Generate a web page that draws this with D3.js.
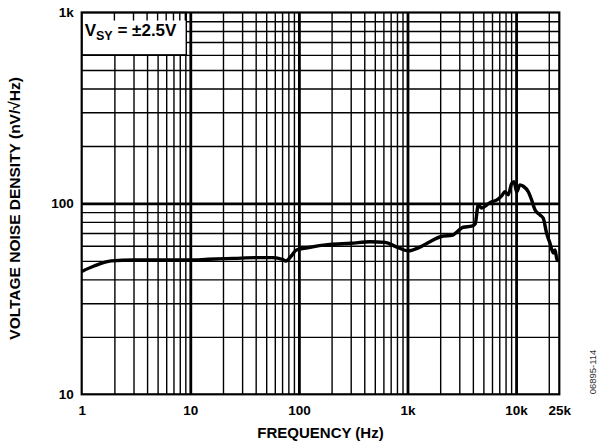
<!DOCTYPE html>
<html><head><meta charset="utf-8">
<script src="https://cdn.jsdelivr.net/npm/d3@7"></script>
<style>body{margin:0;background:#fff}svg{display:block}text{font-family:Arial,"Liberation Sans",sans-serif}</style>
</head><body><svg width="600" height="444"></svg>
<script>
const freq  = [1, 1.3, 1.87, 3, 5, 10, 14.6, 25, 40, 58, 70, 76, 85, 95, 120, 193, 300, 452, 621, 800, 1016, 1300, 1610, 2138, 2553, 3266, 3900, 4200, 4485, 4820, 5360, 5960, 6620, 7360, 7900, 8470, 9100, 9570, 10120, 10860, 11650, 12950, 13920, 14930, 16600, 17800, 19100, 20500, 22000, 22800, 23650, 24470];
const noise = [44, 47, 50, 50.5, 50.5, 50.5, 51, 51.5, 52, 52, 51, 49.9, 53, 57, 58.6, 61, 61.8, 63, 62.5, 59, 56.4, 59, 63, 67.5, 68, 75, 76, 78, 98, 94.5, 98, 102, 104, 109.5, 115, 111, 127, 130, 115, 125, 123, 115, 104, 92.5, 87, 83.5, 69.7, 62, 55, 57, 51.5, 49.6];
const xTickValues = [1, 10, 100, 1000, 10000, 25000];
const xTickLabels = ["1", "10", "100", "1k", "10k", "25k"];
const yTickValues = [10, 100, 1000];
const yTickLabels = ["10", "100", "1k"];
const xGridValues = [2,3,4,5,6,7,8,9,10,20,30,40,50,60,70,80,90,100,200,300,400,500,600,700,800,900,1000,2000,3000,4000,5000,6000,7000,8000,9000,10000,20000];
const yGridValues = [20,30,40,50,60,70,80,90,100,200,300,400,500,600,700,800,900];
const decades = [10, 100, 1000, 10000];

const svg = d3.select("svg");
const x = d3.scaleLog().domain([1, 25000]).range([81.7, 559.3]);
const y = d3.scaleLog().domain([10, 1000]).range([394.3, 12.5]);
const [x0, x1] = x.range(), [yb, yt] = y.range();

// vertical grid
const gx = svg.append("g").attr("transform", `translate(0,${yb})`)
  .call(d3.axisBottom(x).tickValues(xGridValues).tickSize(-(yb - yt)).tickFormat(""));
gx.select(".domain").remove();
gx.selectAll("line").attr("stroke", "#000")
  .attr("stroke-width", d => decades.includes(d) ? 2.8 : 1.4);

// horizontal grid
const gy = svg.append("g").attr("transform", `translate(${x0},0)`)
  .call(d3.axisLeft(y).tickValues(yGridValues).tickSize(-(x1 - x0)).tickFormat(""));
gy.select(".domain").remove();
gy.selectAll("line").attr("stroke", "#000")
  .attr("stroke-width", d => decades.includes(d) ? 2.8 : 1.4);

// label box
const boxR = x(10) - 4, boxB = y(600);
svg.append("rect").attr("x", x0).attr("y", yt).attr("width", boxR - x0).attr("height", boxB - yt)
  .attr("fill", "#fff").attr("stroke", "#000").attr("stroke-width", 1.4);
svg.append("g").selectAll("line").data(xGridValues.filter(v => x(v) < boxR)).join("line")
  .attr("x1", d => x(d)).attr("x2", d => x(d)).attr("y1", yt).attr("y2", yt + 8)
  .attr("stroke", "#000").attr("stroke-width", 1.4);
const lbl = svg.append("text").attr("x", x0 + 3).attr("y", yt + 23.5)
  .attr("font-size", 17).attr("font-weight", "bold");
lbl.append("tspan").text("V");
lbl.append("tspan").attr("font-size", 12.5).attr("dy", 4).text("SY");
lbl.append("tspan").attr("dy", -4).text(" = ±2.5V");

// curve
const line = d3.line().x((d, i) => x(freq[i])).y(d => y(d)).curve(d3.curveMonotoneX);
svg.append("path").datum(noise).attr("d", line).attr("fill", "none")
  .attr("stroke", "#000").attr("stroke-width", 3.4).attr("stroke-linejoin", "round");

// frame
svg.append("rect").attr("x", x0).attr("y", yt).attr("width", x1 - x0).attr("height", yb - yt)
  .attr("fill", "none").attr("stroke", "#000").attr("stroke-width", 2.2);

// axis labels
const ax = svg.append("g").attr("transform", `translate(0,${yb})`)
  .call(d3.axisBottom(x).tickValues(xTickValues).tickSize(0).tickPadding(11)
    .tickFormat((d, i) => xTickLabels[i]));
ax.select(".domain").remove();
ax.selectAll("text").attr("font-size", 13.5).attr("font-weight", "bold").attr("fill", "#000")
  .attr("font-family", "Arial, 'Liberation Sans', sans-serif");

const ay = svg.append("g").attr("transform", `translate(${x0},0)`)
  .call(d3.axisLeft(y).tickValues(yTickValues).tickSize(0).tickPadding(8)
    .tickFormat((d, i) => yTickLabels[i]));
ay.select(".domain").remove();
ay.selectAll("text").attr("font-size", 13.5).attr("font-weight", "bold").attr("fill", "#000")
  .attr("font-family", "Arial, 'Liberation Sans', sans-serif");

svg.append("text").attr("x", (x0 + x1) / 2).attr("y", 438).attr("text-anchor", "middle")
  .attr("font-size", 15).attr("font-weight", "bold").text("FREQUENCY (Hz)");
svg.append("text").attr("transform", `translate(20,${(yt + yb) / 2 + 5}) rotate(-90)`)
  .attr("text-anchor", "middle").attr("font-size", 15.5).attr("font-weight", "bold")
  .text("VOLTAGE NOISE DENSITY (nV/√Hz)");
svg.append("text").attr("transform", "translate(596,372) rotate(-90)")
  .attr("text-anchor", "middle").attr("font-size", 9.5).attr("fill", "#333")
  .text("06895-114");
</script></body></html>
